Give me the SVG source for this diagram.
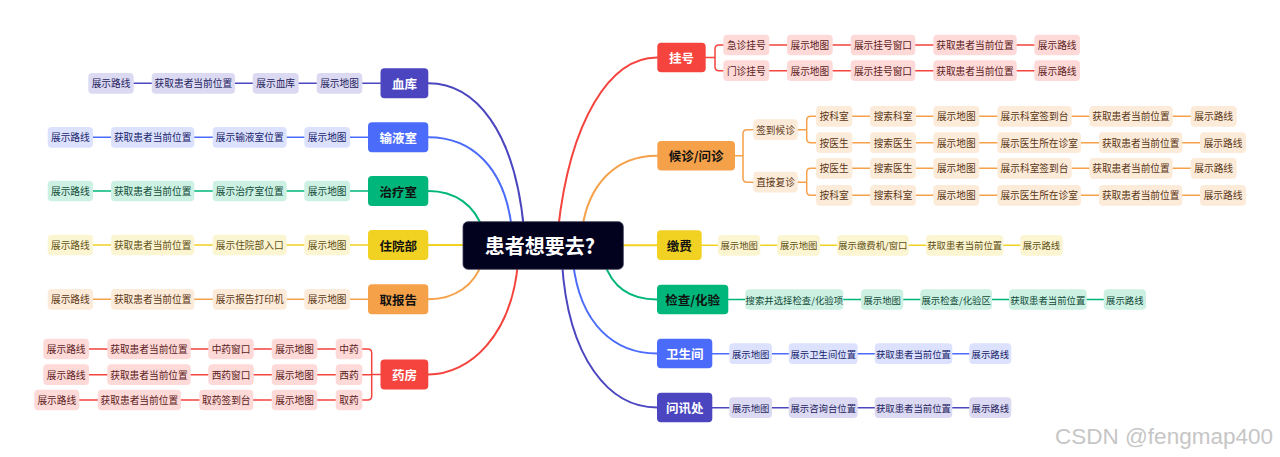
<svg xmlns="http://www.w3.org/2000/svg" width="1280" height="457" viewBox="0 0 1280 457">
<style>
text{font-family:"Noto Sans CJK SC","Noto Sans",sans-serif;text-anchor:middle;dominant-baseline:central}
.k rect{rx:4px}
.k text{font-size:9.7px}
.k.s text{font-size:9.4px}
.n rect{rx:4px}
.n text{font-size:12.5px;font-weight:700}
.n.w text{fill:#ffffff}
.n.d text{fill:#111111}
.red.k rect{fill:#FDD9D8}.red.k text{fill:#5C1B1B}.red.n rect{fill:#F5433D}
.org.k rect{fill:#FDEBDA}.org.k text{fill:#5A3714}.org.n rect{fill:#F5A14A}
.yel.k rect{fill:#FCF5D2}.yel.k text{fill:#5F5014}.yel.n rect{fill:#F1D122}
.grn.k rect{fill:#CCF1E3}.grn.k text{fill:#124A37}.grn.n rect{fill:#00B67A}
.blu.k rect{fill:#DCE2FE}.blu.k text{fill:#17236A}.blu.n rect{fill:#4B6BFA}
.ind.k rect{fill:#DBDAF2}.ind.k text{fill:#25225E}.ind.n rect{fill:#4B46BF}
#connectors path{fill:none;stroke-linecap:round}
.lr{stroke:#F5433D}.lo{stroke:#F5A14A}.ly{stroke:#F1D122}.lg{stroke:#00B67A}.lb{stroke:#4B6BFA}.li{stroke:#4B46BF}
.main{stroke-width:2}
.sub{stroke-width:1.5}
</style>
<rect width="1280" height="457" fill="#ffffff"/>
<g id="connectors">
<!-- main curves -->
<path class="lr main" d="M657 57.5 C610 57.5,570 120,558 230"/>
<path class="lo main" d="M657 155.7 C615 155.7,588 185,582 230"/>
<path class="ly main" d="M620 245.3 H657"/>
<path class="lg main" d="M657 299.5 C630 299.5,612 287,604 262"/>
<path class="lb main" d="M657 353.5 C615 353.5,580 325,573 262"/>
<path class="li main" d="M657 407.5 C610 407.5,568 360,562 262"/>
<path class="li main" d="M428.3 83.3 C475 83.3,515 130,524 230"/>
<path class="lb main" d="M428.3 137.3 C470 137.3,505 165,512 230"/>
<path class="lg main" d="M428.3 191 C455 191,475 205,483 230"/>
<path class="ly main" d="M428.3 245 H466"/>
<path class="lo main" d="M428.3 299.3 C455 299.3,475 285,482 262"/>
<path class="lr main" d="M428.3 374.5 C470 374.5,512 335,518 262"/>
<!-- 挂号 -->
<path class="lr sub" d="M705.7 57.5 H715 M723.3 45 H719 Q715 45 715 49 V66.7 Q715 70.7 719 70.7 H723.3"/>
<path class="lr sub" d="M769.3 45 H787 M832.7 45 H850.7 M915.3 45 H933.3 M1016.7 45 H1034.3"/>
<path class="lr sub" d="M769.3 70.7 H787 M832.7 70.7 H850.7 M915.3 70.7 H933.3 M1016.7 70.7 H1034.3"/>
<!-- 候诊/问诊 -->
<path class="lo sub" d="M735 155.7 H743 M753.3 129.7 H747 Q743 129.7 743 133.7 V178.2 Q743 182.2 747 182.2 H753.3"/>
<path class="lo sub" d="M797.7 129.7 H806.7 M816 116.3 H810.7 Q806.7 116.3 806.7 120.3 V138.7 Q806.7 142.7 810.7 142.7 H816"/>
<path class="lo sub" d="M797.7 182.2 H806.7 M816 168.3 H810.7 Q806.7 168.3 806.7 172.3 V191.3 Q806.7 195.3 810.7 195.3 H816"/>
<path class="lo sub" d="M852.3 116.3 H870 M916 116.3 H933.3 M979.3 116.3 H997.3 M1071.7 116.3 H1089.3 M1172.7 116.3 H1190.7"/>
<path class="lo sub" d="M852.3 142.7 H870 M916 142.7 H933.3 M979.3 142.7 H997.3 M1081 142.7 H1099 M1182.3 142.7 H1200"/>
<path class="lo sub" d="M852.3 168.3 H870 M916 168.3 H933.3 M979.3 168.3 H997.3 M1071.7 168.3 H1089.3 M1172.7 168.3 H1190.7"/>
<path class="lo sub" d="M852.3 195.3 H870 M916 195.3 H933.3 M979.3 195.3 H997.3 M1081 195.3 H1099 M1182.3 195.3 H1200"/>
<!-- 缴费 -->
<path class="ly sub" d="M701.7 245.3 H718 M760.3 245.3 H777.3 M820 245.3 H837 M908.7 245.3 H926 M1003.3 245.3 H1020.3"/>
<!-- 检查/化验 -->
<path class="lg sub" d="M728.3 299.5 H745.3 M843.3 299.5 H861 M903.3 299.5 H920.3 M992 299.5 H1009 M1086.7 299.5 H1103.7"/>
<!-- 卫生间 -->
<path class="lb sub" d="M712.3 353.7 H729.3 M772 353.7 H788.7 M857.7 353.7 H874.7 M952.3 353.7 H969.3"/>
<!-- 问讯处 -->
<path class="li sub" d="M712.3 407.7 H729.3 M772 407.7 H788.7 M857.7 407.7 H874.7 M952.3 407.7 H969.3"/>
<!-- 血库 -->
<path class="li sub" d="M380.5 83.3 H362.3 M316.7 83.3 H298.7 M252.7 83.3 H235 M151.7 83.3 H133.7"/>
<!-- 输液室 -->
<path class="lb sub" d="M368 137.3 H350 M304.3 137.3 H286.7 M212.7 137.3 H194.3 M111 137.3 H93"/>
<!-- 治疗室 -->
<path class="lg sub" d="M368 191 H350 M304.3 191 H286.7 M212.7 191 H194.3 M111 191 H93"/>
<!-- 住院部 -->
<path class="ly sub" d="M368 245 H350 M304.3 245 H286.7 M212.7 245 H194.3 M111 245 H93"/>
<!-- 取报告 -->
<path class="lo sub" d="M368 299.3 H350 M304.3 299.3 H286.7 M212.7 299.3 H194.3 M111 299.3 H93"/>
<!-- 药房 -->
<path class="lr sub" d="M380.5 374.5 H371.7 M362.3 349 H367.7 Q371.7 349 371.7 353 V396 Q371.7 400 367.7 400 H362.3 M371.7 374.7 H362.3"/>
<path class="lr sub" d="M335.7 349 H317.3 M271.7 349 H253.7 M208.3 349 H190.7 M107.3 349 H89"/>
<path class="lr sub" d="M335.7 374.7 H317.3 M271.7 374.7 H253.7 M208.3 374.7 H190.7 M107.3 374.7 H89"/>
<path class="lr sub" d="M335.7 400 H317.3 M271.7 400 H253.3 M199.3 400 H181 M97.7 400 H79.3"/>
</g>

<!-- center -->
<g id="center">
<rect x="463" y="221.7" width="160.3" height="47.6" rx="5" fill="#02021F" stroke="#3a3a52" stroke-width="0.8"/>
<text x="540" y="245.5" font-size="20" font-weight="700" fill="#ffffff">患者想要去?</text>
</g>

<!-- main nodes -->
<g id="n-xueku" class="n ind w"><rect x="380.5" y="68.3" width="47.8" height="30"/><text x="404.4" y="83.3">血库</text></g>
<g id="n-shuyeshi" class="n blu w"><rect x="368" y="122.3" width="60.3" height="30"/><text x="398.15" y="137.3">输液室</text></g>
<g id="n-zhiliaoshi" class="n grn d"><rect x="368" y="176" width="60.3" height="30"/><text x="398.15" y="191">治疗室</text></g>
<g id="n-zhuyuanbu" class="n yel d"><rect x="368" y="230" width="60.3" height="30"/><text x="398.15" y="245">住院部</text></g>
<g id="n-qubaogao" class="n org d"><rect x="368" y="284.3" width="60.3" height="30"/><text x="398.15" y="299.3">取报告</text></g>
<g id="n-yaofang" class="n red w"><rect x="380.5" y="359.5" width="47.8" height="30"/><text x="404.4" y="374.5">药房</text></g>
<g id="n-guahao" class="n red w"><rect x="657.3" y="42.7" width="48.4" height="29.6"/><text x="681.5" y="57.5">挂号</text></g>
<g id="n-houzhen" class="n org d"><rect x="657.3" y="141" width="77.7" height="29.4"/><text x="696.15" y="155.7">候诊/问诊</text></g>
<g id="n-jiaofei" class="n yel d"><rect x="657" y="230.3" width="44.7" height="29.7"/><text x="679.35" y="245.2">缴费</text></g>
<g id="n-jiancha" class="n grn d"><rect x="657" y="284.7" width="71.3" height="29.6"/><text x="692.65" y="299.5">检查/化验</text></g>
<g id="n-weishengjian" class="n blu w"><rect x="657" y="338.7" width="55.3" height="29.6"/><text x="684.65" y="353.5">卫生间</text></g>
<g id="n-wenxunchu" class="n ind w"><rect x="657" y="392.7" width="55.3" height="29.6"/><text x="684.65" y="407.5">问讯处</text></g>

<!-- 挂号 children -->
<g id="gh-a1" class="k red"><rect x="723.3" y="34.65" width="46" height="20.7"/><text x="746.3" y="45">急诊挂号</text></g>
<g id="gh-a2" class="k red"><rect x="787" y="34.65" width="45.7" height="20.7"/><text x="809.85" y="45">展示地图</text></g>
<g id="gh-a3" class="k red"><rect x="850.7" y="34.65" width="64.6" height="20.7"/><text x="883" y="45">展示挂号窗口</text></g>
<g id="gh-a4" class="k red"><rect x="933.3" y="34.65" width="83.4" height="20.7"/><text x="975" y="45">获取患者当前位置</text></g>
<g id="gh-a5" class="k red"><rect x="1034.3" y="34.65" width="45.7" height="20.7"/><text x="1057.15" y="45">展示路线</text></g>
<g id="gh-b1" class="k red"><rect x="723.3" y="60.35" width="46" height="20.7"/><text x="746.3" y="70.7">门诊挂号</text></g>
<g id="gh-b2" class="k red"><rect x="787" y="60.35" width="45.7" height="20.7"/><text x="809.85" y="70.7">展示地图</text></g>
<g id="gh-b3" class="k red"><rect x="850.7" y="60.35" width="64.6" height="20.7"/><text x="883" y="70.7">展示挂号窗口</text></g>
<g id="gh-b4" class="k red"><rect x="933.3" y="60.35" width="83.4" height="20.7"/><text x="975" y="70.7">获取患者当前位置</text></g>
<g id="gh-b5" class="k red"><rect x="1034.3" y="60.35" width="45.7" height="20.7"/><text x="1057.15" y="70.7">展示路线</text></g>

<!-- 候诊/问诊 children -->
<g id="hz-qd" class="k org"><rect x="753.3" y="119.35" width="44.4" height="20.7"/><text x="775.5" y="129.7">签到候诊</text></g>
<g id="hz-zj" class="k org"><rect x="753.3" y="171.85" width="44.4" height="20.7"/><text x="775.5" y="182.2">直接复诊</text></g>
<g id="hz-r1a" class="k org"><rect x="816" y="105.95" width="36.3" height="20.7"/><text x="834.15" y="116.3">按科室</text></g>
<g id="hz-r1b" class="k org"><rect x="870" y="105.95" width="46" height="20.7"/><text x="893" y="116.3">搜索科室</text></g>
<g id="hz-r1c" class="k org"><rect x="933.3" y="105.95" width="46" height="20.7"/><text x="956.3" y="116.3">展示地图</text></g>
<g id="hz-r1d" class="k org"><rect x="997.3" y="105.95" width="74.4" height="20.7"/><text x="1034.5" y="116.3">展示科室签到台</text></g>
<g id="hz-r1e" class="k org"><rect x="1089.3" y="105.95" width="83.4" height="20.7"/><text x="1131" y="116.3">获取患者当前位置</text></g>
<g id="hz-r1f" class="k org"><rect x="1190.7" y="105.95" width="46" height="20.7"/><text x="1213.7" y="116.3">展示路线</text></g>
<g id="hz-r2a" class="k org"><rect x="816" y="132.35" width="36.3" height="20.7"/><text x="834.15" y="142.7">按医生</text></g>
<g id="hz-r2b" class="k org"><rect x="870" y="132.35" width="46" height="20.7"/><text x="893" y="142.7">搜索医生</text></g>
<g id="hz-r2c" class="k org"><rect x="933.3" y="132.35" width="46" height="20.7"/><text x="956.3" y="142.7">展示地图</text></g>
<g id="hz-r2d" class="k org"><rect x="997.3" y="132.35" width="83.7" height="20.7"/><text x="1039.15" y="142.7">展示医生所在诊室</text></g>
<g id="hz-r2e" class="k org"><rect x="1099" y="132.35" width="83.3" height="20.7"/><text x="1140.65" y="142.7">获取患者当前位置</text></g>
<g id="hz-r2f" class="k org"><rect x="1200" y="132.35" width="46" height="20.7"/><text x="1223" y="142.7">展示路线</text></g>
<g id="hz-r3a" class="k org"><rect x="816" y="157.95" width="36.3" height="20.7"/><text x="834.15" y="168.3">按医生</text></g>
<g id="hz-r3b" class="k org"><rect x="870" y="157.95" width="46" height="20.7"/><text x="893" y="168.3">搜索医生</text></g>
<g id="hz-r3c" class="k org"><rect x="933.3" y="157.95" width="46" height="20.7"/><text x="956.3" y="168.3">展示地图</text></g>
<g id="hz-r3d" class="k org"><rect x="997.3" y="157.95" width="74.4" height="20.7"/><text x="1034.5" y="168.3">展示科室签到台</text></g>
<g id="hz-r3e" class="k org"><rect x="1089.3" y="157.95" width="83.4" height="20.7"/><text x="1131" y="168.3">获取患者当前位置</text></g>
<g id="hz-r3f" class="k org"><rect x="1190.7" y="157.95" width="46" height="20.7"/><text x="1213.7" y="168.3">展示路线</text></g>
<g id="hz-r4a" class="k org"><rect x="816" y="184.95" width="36.3" height="20.7"/><text x="834.15" y="195.3">按科室</text></g>
<g id="hz-r4b" class="k org"><rect x="870" y="184.95" width="46" height="20.7"/><text x="893" y="195.3">搜索科室</text></g>
<g id="hz-r4c" class="k org"><rect x="933.3" y="184.95" width="46" height="20.7"/><text x="956.3" y="195.3">展示地图</text></g>
<g id="hz-r4d" class="k org"><rect x="997.3" y="184.95" width="83.7" height="20.7"/><text x="1039.15" y="195.3">展示医生所在诊室</text></g>
<g id="hz-r4e" class="k org"><rect x="1099" y="184.95" width="83.3" height="20.7"/><text x="1140.65" y="195.3">获取患者当前位置</text></g>
<g id="hz-r4f" class="k org"><rect x="1200" y="184.95" width="46" height="20.7"/><text x="1223" y="195.3">展示路线</text></g>

<!-- 缴费 children -->
<g id="jf-1" class="k s yel"><rect x="718" y="234.95" width="42.3" height="20.7"/><text x="739.15" y="245.3">展示地图</text></g>
<g id="jf-2" class="k s yel"><rect x="777.3" y="234.95" width="42.7" height="20.7"/><text x="798.65" y="245.3">展示地图</text></g>
<g id="jf-3" class="k s yel"><rect x="837" y="234.95" width="71.7" height="20.7"/><text x="872.85" y="245.3">展示缴费机/窗口</text></g>
<g id="jf-4" class="k s yel"><rect x="926" y="234.95" width="77.3" height="20.7"/><text x="964.65" y="245.3">获取患者当前位置</text></g>
<g id="jf-5" class="k s yel"><rect x="1020.3" y="234.95" width="42.4" height="20.7"/><text x="1041.5" y="245.3">展示路线</text></g>

<!-- 检查/化验 children -->
<g id="jc-1" class="k s grn"><rect x="745.3" y="289.15" width="98" height="20.7"/><text x="794.3" y="299.5">搜索并选择检查/化验项</text></g>
<g id="jc-2" class="k s grn"><rect x="861" y="289.15" width="42.3" height="20.7"/><text x="882.15" y="299.5">展示地图</text></g>
<g id="jc-3" class="k s grn"><rect x="920.3" y="289.15" width="71.7" height="20.7"/><text x="956.15" y="299.5">展示检查/化验区</text></g>
<g id="jc-4" class="k s grn"><rect x="1009" y="289.15" width="77.7" height="20.7"/><text x="1047.85" y="299.5">获取患者当前位置</text></g>
<g id="jc-5" class="k s grn"><rect x="1103.7" y="289.15" width="42.3" height="20.7"/><text x="1124.85" y="299.5">展示路线</text></g>

<!-- 卫生间 children -->
<g id="ws-1" class="k s blu"><rect x="729.3" y="343.35" width="42.7" height="20.7"/><text x="750.65" y="353.7">展示地图</text></g>
<g id="ws-2" class="k s blu"><rect x="788.7" y="343.35" width="69" height="20.7"/><text x="823.2" y="353.7">展示卫生间位置</text></g>
<g id="ws-3" class="k s blu"><rect x="874.7" y="343.35" width="77.6" height="20.7"/><text x="913.5" y="353.7">获取患者当前位置</text></g>
<g id="ws-4" class="k s blu"><rect x="969.3" y="343.35" width="42" height="20.7"/><text x="990.3" y="353.7">展示路线</text></g>

<!-- 问讯处 children -->
<g id="wx-1" class="k s ind"><rect x="729.3" y="397.35" width="42.7" height="20.7"/><text x="750.65" y="407.7">展示地图</text></g>
<g id="wx-2" class="k s ind"><rect x="788.7" y="397.35" width="69" height="20.7"/><text x="823.2" y="407.7">展示咨询台位置</text></g>
<g id="wx-3" class="k s ind"><rect x="874.7" y="397.35" width="77.6" height="20.7"/><text x="913.5" y="407.7">获取患者当前位置</text></g>
<g id="wx-4" class="k s ind"><rect x="969.3" y="397.35" width="42" height="20.7"/><text x="990.3" y="407.7">展示路线</text></g>

<!-- 血库 children -->
<g id="xk-1" class="k ind"><rect x="316.7" y="72.95" width="45.6" height="20.7"/><text x="339.5" y="83.3">展示地图</text></g>
<g id="xk-2" class="k ind"><rect x="252.7" y="72.95" width="46" height="20.7"/><text x="275.7" y="83.3">展示血库</text></g>
<g id="xk-3" class="k ind"><rect x="151.7" y="72.95" width="83.3" height="20.7"/><text x="193.35" y="83.3">获取患者当前位置</text></g>
<g id="xk-4" class="k ind"><rect x="88.3" y="72.95" width="45.4" height="20.7"/><text x="111" y="83.3">展示路线</text></g>

<!-- 输液室 children -->
<g id="sy-1" class="k blu"><rect x="304.3" y="126.95" width="45.7" height="20.7"/><text x="327.15" y="137.3">展示地图</text></g>
<g id="sy-2" class="k blu"><rect x="212.7" y="126.95" width="74" height="20.7"/><text x="249.7" y="137.3">展示输液室位置</text></g>
<g id="sy-3" class="k blu"><rect x="111" y="126.95" width="83.3" height="20.7"/><text x="152.65" y="137.3">获取患者当前位置</text></g>
<g id="sy-4" class="k blu"><rect x="47.7" y="126.95" width="45.3" height="20.7"/><text x="70.35" y="137.3">展示路线</text></g>

<!-- 治疗室 children -->
<g id="zl-1" class="k grn"><rect x="304.3" y="180.65" width="45.7" height="20.7"/><text x="327.15" y="191">展示地图</text></g>
<g id="zl-2" class="k grn"><rect x="212.7" y="180.65" width="74" height="20.7"/><text x="249.7" y="191">展示治疗室位置</text></g>
<g id="zl-3" class="k grn"><rect x="111" y="180.65" width="83.3" height="20.7"/><text x="152.65" y="191">获取患者当前位置</text></g>
<g id="zl-4" class="k grn"><rect x="47.7" y="180.65" width="45.3" height="20.7"/><text x="70.35" y="191">展示路线</text></g>

<!-- 住院部 children -->
<g id="zy-1" class="k yel"><rect x="304.3" y="234.65" width="45.7" height="20.7"/><text x="327.15" y="245">展示地图</text></g>
<g id="zy-2" class="k yel"><rect x="212.7" y="234.65" width="74" height="20.7"/><text x="249.7" y="245">展示住院部入口</text></g>
<g id="zy-3" class="k yel"><rect x="111" y="234.65" width="83.3" height="20.7"/><text x="152.65" y="245">获取患者当前位置</text></g>
<g id="zy-4" class="k yel"><rect x="47.7" y="234.65" width="45.3" height="20.7"/><text x="70.35" y="245">展示路线</text></g>

<!-- 取报告 children -->
<g id="qb-1" class="k org"><rect x="304.3" y="288.95" width="45.7" height="20.7"/><text x="327.15" y="299.3">展示地图</text></g>
<g id="qb-2" class="k org"><rect x="212.7" y="288.95" width="74" height="20.7"/><text x="249.7" y="299.3">展示报告打印机</text></g>
<g id="qb-3" class="k org"><rect x="111" y="288.95" width="83.3" height="20.7"/><text x="152.65" y="299.3">获取患者当前位置</text></g>
<g id="qb-4" class="k org"><rect x="47.7" y="288.95" width="45.3" height="20.7"/><text x="70.35" y="299.3">展示路线</text></g>

<!-- 药房 children -->
<g id="yf-a1" class="k red"><rect x="335.7" y="338.65" width="26.6" height="20.7"/><text x="349" y="349">中药</text></g>
<g id="yf-a2" class="k red"><rect x="271.7" y="338.65" width="45.6" height="20.7"/><text x="294.5" y="349">展示地图</text></g>
<g id="yf-a3" class="k red"><rect x="208.3" y="338.65" width="45.4" height="20.7"/><text x="231" y="349">中药窗口</text></g>
<g id="yf-a4" class="k red"><rect x="107.3" y="338.65" width="83.4" height="20.7"/><text x="149" y="349">获取患者当前位置</text></g>
<g id="yf-a5" class="k red"><rect x="43.3" y="338.65" width="45.7" height="20.7"/><text x="66.15" y="349">展示路线</text></g>
<g id="yf-b1" class="k red"><rect x="335.7" y="364.35" width="26.6" height="20.7"/><text x="349" y="374.7">西药</text></g>
<g id="yf-b2" class="k red"><rect x="271.7" y="364.35" width="45.6" height="20.7"/><text x="294.5" y="374.7">展示地图</text></g>
<g id="yf-b3" class="k red"><rect x="208.3" y="364.35" width="45.4" height="20.7"/><text x="231" y="374.7">西药窗口</text></g>
<g id="yf-b4" class="k red"><rect x="107.3" y="364.35" width="83.4" height="20.7"/><text x="149" y="374.7">获取患者当前位置</text></g>
<g id="yf-b5" class="k red"><rect x="43.3" y="364.35" width="45.7" height="20.7"/><text x="66.15" y="374.7">展示路线</text></g>
<g id="yf-c1" class="k red"><rect x="335.7" y="389.65" width="26.6" height="20.7"/><text x="349" y="400">取药</text></g>
<g id="yf-c2" class="k red"><rect x="271.7" y="389.65" width="45.6" height="20.7"/><text x="294.5" y="400">展示地图</text></g>
<g id="yf-c3" class="k red"><rect x="199.3" y="389.65" width="54" height="20.7"/><text x="226.3" y="400">取药签到台</text></g>
<g id="yf-c4" class="k red"><rect x="97.7" y="389.65" width="83.3" height="20.7"/><text x="139.35" y="400">获取患者当前位置</text></g>
<g id="yf-c5" class="k red"><rect x="34.3" y="389.65" width="45" height="20.7"/><text x="56.8" y="400">展示路线</text></g>

<text x="1164" y="436.5" font-size="22.5" fill="#c6c6c6" style="font-family:'Liberation Sans',Arial,sans-serif">CSDN @fengmap400</text>
</svg>
